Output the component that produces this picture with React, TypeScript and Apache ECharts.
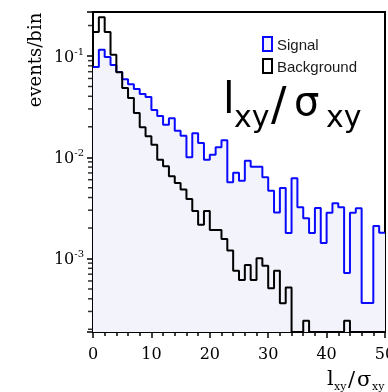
import { useEffect, useRef } from "react";
import * as echarts from "echarts";

const X_MIN = 0;
const X_MAX = 50;
const BIN_WIDTH = 1;
const X_INTERVAL = 10;
const Y_MIN = 1.88e-4;
const Y_MAX = 0.272;

const seriesNames = ["Signal", "Background"];
const yTitle = "events/bin";

// events/bin per unit bin of l_xy/sigma_xy, bins 0..49
const signal = [
  0.0779, 0.115, 0.0977, 0.0815, 0.0695, 0.0589, 0.0525, 0.0472, 0.0421, 0.0393,
  0.0293, 0.0255, 0.021, 0.0243, 0.0183, 0.0163, 0.01, 0.0173, 0.0138, 0.00944,
  0.01057, 0.01253, 0.01469, 0.00566, 0.00703, 0.00586, 0.00925, 0.00807, 0.00807, 0.00634,
  0.00468, 0.00285, 0.00497, 0.00179, 0.00619, 0.00321, 0.0025, 0.00179, 0.00316, 0.00142,
  0.00283, 0.00351, 0.00321, 0.00072, 0.00283, 0.00313, 0.000363, 0.000363, 0.00209, 0.0018,
];
const background = [
  0.1725, 0.241, 0.1725, 0.103, 0.069, 0.0483, 0.0385, 0.0274, 0.0198, 0.0161,
  0.0133, 0.00946, 0.00814, 0.00649, 0.00557, 0.00479, 0.00387, 0.00295, 0.00215, 0.00295,
  0.00191, 0.00191, 0.00156, 0.0012, 0.000757, 0.000614, 0.000863, 0.000614, 0.001005, 0.00085,
  0.000508, 0.000757, 0.000361, 0.000518, 0, 0, 0.000243, 0, 0, 0,
  0, 0, 0, 0.000243, 0, 0, 0, 0, 0, 0,
];

const BLUE = "#0a0aff";
const FILL = "#f3f3fc";

function toSteps(values: number[]) {
  const pts: number[][] = values.map((v, i) => [X_MIN + i * BIN_WIDTH, v > 0 ? v : Y_MIN]);
  const last = values[values.length - 1];
  pts.push([X_MIN + values.length * BIN_WIDTH, last > 0 ? last : Y_MIN]);
  return pts;
}

function minorLogTicks(): number[][] {
  const out: number[][] = [];
  for (let d = -5; d <= 0; d++) {
    for (let m = 2; m <= 9; m++) {
      const v = m * Math.pow(10, d);
      if (v >= Y_MIN && v <= Y_MAX) out.push([X_MIN, v]);
    }
  }
  return out;
}

function piece(text: string, x: number, baseline: number, size: number, family: string) {
  return {
    type: "text",
    x,
    y: baseline - 0.35 * size,
    silent: true,
    style: {
      text,
      font: `${size}px "${family}"`,
      fill: "#000",
      align: "left",
      verticalAlign: "middle",
    },
  };
}

export default function App() {
  const ref = useRef<HTMLDivElement>(null);
  useEffect(() => {
    document.body.style.margin = "0";
    if (!ref.current) return;
    const chart = echarts.init(ref.current, undefined, { renderer: "svg" });
    const serif = "DejaVu Serif";
    const sans = "DejaVu Sans";
    const option = {
      animation: false,
      grid: {
        left: 93,
        right: 3,
        top: 12,
        bottom: 60,
        containLabel: false,
        outerBoundsMode: "none",
        show: true,
        borderColor: "#000",
        borderWidth: 2,
        backgroundColor: "transparent",
      },
      xAxis: {
        type: "value",
        min: X_MIN,
        max: X_MAX,
        interval: X_INTERVAL,
        axisLine: { show: true, onZero: false, lineStyle: { color: "#000", width: 2 } },
        axisTick: { show: true, inside: false, length: 6, lineStyle: { color: "#000", width: 1.5 } },
        minorTick: { show: true, splitNumber: 5, length: 4, lineStyle: { color: "#000", width: 1.5 } },
        axisLabel: { fontFamily: serif, fontSize: 16, color: "#000", margin: 13 },
        splitLine: { show: false },
      },
      yAxis: {
        type: "log",
        logBase: 10,
        min: Y_MIN,
        max: Y_MAX,
        axisLine: { show: true, lineStyle: { color: "#000", width: 2 } },
        axisTick: { show: true, inside: false, length: 6, lineStyle: { color: "#000", width: 1.5 } },
        splitLine: { show: false },
        axisLabel: {
          margin: 9,
          formatter: (v: number) => {
            const e = Math.log10(v);
            const r = Math.round(e);
            if (Math.abs(e - r) > 1e-6) return "";
            return `{b|10}{s|${r}}`;
          },
          rich: {
            b: { fontFamily: serif, fontSize: 16, color: "#000", lineHeight: 20, verticalAlign: "middle" },
            s: { fontFamily: serif, fontSize: 10, color: "#000", lineHeight: 12, verticalAlign: "top" },
          },
        },
      },
      series: [
        {
          name: seriesNames[0],
          type: "line",
          step: "end",
          data: toSteps(signal),
          showSymbol: false,
          symbol: "none",
          lineStyle: { color: BLUE, width: 2 },
          itemStyle: { color: BLUE },
          areaStyle: { color: FILL, opacity: 1 },
          silent: true,
        },
        {
          name: seriesNames[1],
          type: "line",
          step: "end",
          data: toSteps(background),
          showSymbol: false,
          symbol: "none",
          lineStyle: { color: "#000", width: 2 },
          itemStyle: { color: "#000" },
          silent: true,
        },
        {
          type: "scatter",
          data: minorLogTicks(),
          symbol: "rect",
          symbolSize: [4, 1.5],
          symbolOffset: [-3, 0],
          clip: false,
          silent: true,
          itemStyle: { color: "#000" },
          z: 5,
        },
      ],
      graphic: [
        {
          type: "text",
          x: 34,
          y: 60,
          rotation: Math.PI / 2,
          silent: true,
          style: {
            text: yTitle,
            font: `18px "${serif}"`,
            fill: "#000",
            align: "center",
            verticalAlign: "middle",
          },
        },
        {
          type: "rect",
          silent: true,
          shape: { x: 263, y: 37, width: 9, height: 14 },
          style: { fill: FILL, stroke: BLUE, lineWidth: 2 },
        },
        {
          type: "rect",
          silent: true,
          shape: { x: 263, y: 59, width: 9, height: 14 },
          style: { fill: "#fff", stroke: "#000", lineWidth: 2 },
        },
        {
          type: "text",
          x: 277,
          y: 44.5,
          silent: true,
          style: { text: seriesNames[0], font: `15px "Liberation Sans"`, fill: "#1a1a1a", align: "left", verticalAlign: "middle" },
        },
        {
          type: "text",
          x: 277,
          y: 66.5,
          silent: true,
          style: { text: seriesNames[1], font: `15px "Liberation Sans"`, fill: "#1a1a1a", align: "left", verticalAlign: "middle" },
        },
        // big overlay label l_xy / sigma_xy
        piece("l", 223, 113, 42, sans),
        piece("xy", 234, 127, 30, sans),
        piece("/", 271, 120, 46, sans),
        piece("σ", 294, 115, 40, sans),
        piece("xy", 326, 127, 30, sans),
        // x-axis title
        piece("l", 327, 385, 21, serif),
        piece("xy", 334, 390, 11, serif),
        piece("/", 348, 386, 21, serif),
        piece("σ", 357, 386, 21, serif),
        piece("xy", 372, 390, 11, serif),
      ],
    };
    chart.setOption(option as any);
    return () => chart.dispose();
  }, []);
  return (
    <div
      ref={ref}
      style={{ position: "fixed", left: 0, top: 0, width: 388, height: 392 }}
    />
  );
}
